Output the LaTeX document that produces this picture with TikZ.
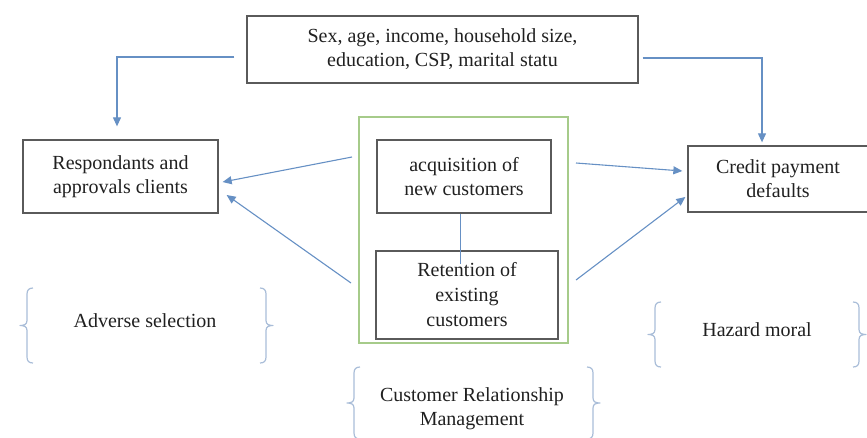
\documentclass[tikz,border=0pt]{standalone}
\usepackage{fontspec}
\setmainfont{Liberation Serif}
\usetikzlibrary{arrows.meta}
\definecolor{boxline}{HTML}{5A5A5A}
\definecolor{arrowblue}{HTML}{6690C4}
\definecolor{crmgreen}{HTML}{A6CB8A}
\definecolor{bracecol}{HTML}{A9BDD8}
\definecolor{inktext}{HTML}{202020}
\tikzset{
  box/.style={draw=boxline, line width=1.3pt, align=center, inner sep=0pt,
    text=inktext, font=\fontsize{20}{24}\selectfont},
  arr/.style={draw=arrowblue, line width=1.1pt,
    -{Triangle[length=9pt,width=8pt]}},
  link/.style={draw=arrowblue, line width=1pt},
  label/.style={align=center, text=inktext, font=\fontsize{20}{24}\selectfont},
  % curly bracket, tip at the pic origin pointing west; #1 = half height
  pics/curly/.style={code={
    \draw[draw=bracecol, line width=1.2pt, line join=round]
      (13,{-#1}) .. controls (9,{-#1}) and (7,{-#1+2}) .. (7,{-#1+6})
      -- (7,-5) .. controls (7,-1) and (4,0) .. (0,0)
      .. controls (4,0) and (7,1) .. (7,5)
      -- (7,{#1-6}) .. controls (7,{#1-2}) and (9,{#1}) .. (13,{#1});
  }},
}
\begin{document}
\begin{tikzpicture}[x=1pt,y=-1pt]
\useasboundingbox (0,0) rectangle (867,437);

% profile variables
\node[box, minimum width=391pt, minimum height=67pt] (top) at (442.5,49.5)
  {Sex, age, income, household size,\\education, CSP, marital statu};

% outcome boxes
\node[box, minimum width=195pt, minimum height=73pt] (resp) at (120.5,176.5)
  {Respondants and\\approvals clients};
\node[box, minimum width=180pt, minimum height=66pt] (credit) at (778,179)
  {Credit payment\\defaults};

% CRM frame and its two activities
\node[draw=crmgreen, line width=2pt, minimum width=209pt, minimum height=226pt,
  inner sep=0pt] (green) at (463.5,230) {};
\node[box, minimum width=174pt, minimum height=73pt] (acq) at (464,176.5)
  {acquisition of\\new customers};
\node[box, minimum width=182pt, minimum height=88pt,
  font=\fontsize{20}{25}\selectfont] (ret) at (467,295)
  {Retention of\\existing\\customers};

% connectors
\draw[link] ([xshift=-4pt]acq.south) -- ++(0,50);
\draw[arr, shorten >=13pt] ([xshift=-12pt,yshift=-7.5pt]top.west)
  -| ([xshift=-3.5pt]resp.north);
\draw[arr, shorten >=3pt] ([xshift=4pt,yshift=-8.5pt]top.east)
  -| ([xshift=-16pt]credit.north);
\draw[arr] ([xshift=-6pt,yshift=73pt]green.west)
  -- ([xshift=4pt,yshift=-5.5pt]resp.east);
\draw[arr] ([xshift=-7pt,yshift=-53pt]green.west)
  -- ([xshift=8pt,yshift=-18.5pt]resp.east);
\draw[arr] ([xshift=7pt,yshift=67pt]green.east)
  -- ([xshift=-5pt,yshift=8pt]credit.west);
\draw[arr] ([xshift=7pt,yshift=-50pt]green.east)
  -- ([xshift=-2pt,yshift=-18pt]credit.west);

% bracketed labels
\node[label] (adverse) at (145,321) {Adverse selection};
\pic at (20,325.5) {curly=37.5};
\pic[xscale=-1] at (273,325.5) {curly=37.5};

\node[label] (hazard) at (757,330) {Hazard moral};
\pic at (648,334.5) {curly=32.5};
\pic[xscale=-1] at (866,334.5) {curly=32.5};

\node[label] (crm) at (472,409) {Customer Relationship\\Management};
\pic at (347,403) {curly=36};
\pic[xscale=-1] at (600,403) {curly=36};
\end{tikzpicture}
\end{document}
